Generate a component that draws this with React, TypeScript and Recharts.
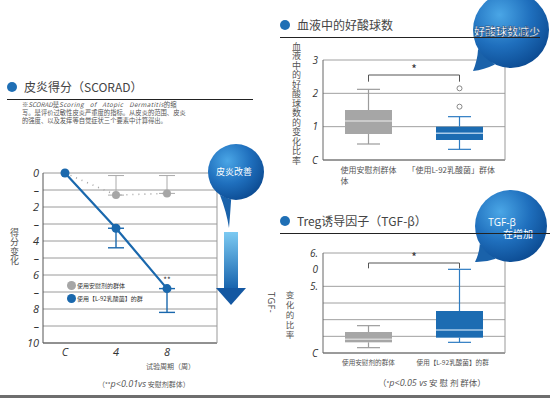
import React from "react";
import {
  LineChart, Line, XAxis, YAxis, CartesianGrid, ErrorBar, Legend,
  ComposedChart, Bar, Cell, ReferenceLine,
} from "recharts";

// ---- SCORAD (line chart) ----
const weeks = [0, 4, 8];
const weekLabels = ["C", "4", "8"];
const placeboScore = [0, 1.3, 1.2];
const placeboErrUp = [null, 1.15, 1.05];
const l92Score = [0, 3.25, 6.8];
const l92ErrDown = [null, 1.15, 1.4];
const scoreTicks = [0, 1, 2, 3, 4, 5, 6, 7, 8, 9, 10];
const scoreTickLabels = ["0", "–", "2", "–", "4", "–", "6", "–", "8", "–", "10"];
const seriesNames = ["使用安慰剂的群体", "使用【L-92乳酸菌】的群"];

// ---- eosinophils (box plot) ----
const eosGroups = ["使用安慰剂群体\n体", "「使用L-92乳酸菌」群体"];
const eosMin = [0.48, 0.32];
const eosQ1 = [0.78, 0.6];
const eosMedian = [1.17, 0.8];
const eosQ3 = [1.5, 1.0];
const eosMax = [2.12, 1.3];
const eosOutliers = [[], [2.15, 1.6]];
const eosTicks = [0, 1, 2, 3];
const eosTickLabels = ["C", "1", "2", "3"];

// ---- TGF-β (box plot) ----
const tgfGroups = ["使用安慰剂的群体", "使用【L-92乳酸菌】的群"];
const tgfMin = [0.32, 0.64];
const tgfQ1 = [0.64, 0.92];
const tgfMedian = [0.82, 1.38];
const tgfQ3 = [1.26, 2.52];
const tgfMax = [1.64, 5.02];
const tgfOutliers = [[], []];
const tgfTicks = [0, 1, 2, 3, 4, 5, 6];
const tgfTickLabels = ["C", "", "", "", "5.", "0", "6."];

const CJK = '"Noto Sans CJK SC", "Noto Sans", sans-serif';
const NUM = '"Open Sans", "DejaVu Sans", sans-serif';
const BLUE = "#1a68ad";
const GRAY = "#a6a6a6";

const scoreData = weeks.map((w, i) => ({
  week: w,
  placebo: placeboScore[i],
  l92: l92Score[i],
  placeboErr: placeboErrUp[i] == null ? null : [placeboErrUp[i], 0],
  l92Err: l92ErrDown[i] == null ? null : [0, l92ErrDown[i]],
}));

function boxTable(groups: string[], mins: number[], q1s: number[], meds: number[], q3s: number[], maxs: number[], outs: number[][]) {
  return groups.map((g, i) => ({
    name: g,
    base: mins[i],
    lowWhisker: q1s[i] - mins[i],
    lowBox: meds[i] - q1s[i],
    highBox: q3s[i] - meds[i],
    highWhisker: maxs[i] - q3s[i],
    out1: outs[i][0] ?? null,
    out2: outs[i][1] ?? null,
  }));
}

const eosData = boxTable(eosGroups, eosMin, eosQ1, eosMedian, eosQ3, eosMax, eosOutliers);
const tgfData = boxTable(tgfGroups, tgfMin, tgfQ1, tgfMedian, tgfQ3, tgfMax, tgfOutliers);

const CAP = 23;
const LowWhisker = (p: any) => {
  const cx = p.x + p.width / 2;
  return (
    <g>
      <line x1={cx} x2={cx} y1={p.y} y2={p.y + p.height} stroke={p.stroke} strokeWidth={1.2} />
      <line x1={cx - CAP / 2} x2={cx + CAP / 2} y1={p.y + p.height} y2={p.y + p.height} stroke={p.stroke} strokeWidth={1.2} />
    </g>
  );
};
const HighWhisker = (p: any) => {
  const cx = p.x + p.width / 2;
  return (
    <g>
      <line x1={cx} x2={cx} y1={p.y} y2={p.y + p.height} stroke={p.stroke} strokeWidth={1.2} />
      <line x1={cx - CAP / 2} x2={cx + CAP / 2} y1={p.y} y2={p.y} stroke={p.stroke} strokeWidth={1.2} />
    </g>
  );
};
const LowBox = (p: any) => <rect x={p.x} y={p.y} width={p.width} height={p.height} fill={p.fill} />;
const HighBox = (p: any) => (
  <g>
    <rect x={p.x} y={p.y} width={p.width} height={p.height} fill={p.fill} />
    <line x1={p.x} x2={p.x + p.width} y1={p.y + p.height} y2={p.y + p.height} stroke={p.stroke} strokeWidth={1.5} />
  </g>
);

const boxFills = [GRAY, "#1c6cb2"];
const medianColors = ["#d6d6d6", "#a9cbe9"];
const whiskerColors = ["#9c9c9c", "#2d7cc2"];

const GroupTick = ({ x, y, payload, fontSize }: any) => {
  const lines = String(payload.value).split("\n");
  const start = x - (lines[0].length * fontSize) / 2;
  return (
    <text x={start} y={y} fontSize={fontSize} fill="#555" fontFamily={CJK}>
      {lines.map((l, i) => (
        <tspan key={i} x={start} dy={i === 0 ? fontSize + 1 : fontSize + 3}>{l}</tspan>
      ))}
    </text>
  );
};

function BoxChart({ data, ticks, tickLabels, sigY, sigDrop, labelSize, xHeight, height, top }: any) {
  const names = data.map((d: any) => d.name);
  return (
    <ComposedChart width={226} height={height} data={data} margin={{ top, right: 0, bottom: 0, left: 13 }}>
      <CartesianGrid vertical={false} stroke="#a0a0a0" />
      <XAxis dataKey="name" height={xHeight} axisLine={{ stroke: "#666" }} tickLine={false} tickSize={2}
        tick={(p: any) => <GroupTick {...p} fontSize={labelSize} />} interval={0} />
      <YAxis domain={[ticks[0], ticks[ticks.length - 1]]} ticks={ticks} width={30} axisLine={{ stroke: "#666" }}
        tickLine={false} tickSize={0} tickMargin={5} tickFormatter={(v: number) => tickLabels[ticks.indexOf(v)]}
        tick={{ fontSize: 10, fontStyle: "italic", fill: "#333", fontFamily: NUM }} />
      <YAxis yAxisId="r" orientation="right" width={1} tick={false} tickLine={false} axisLine={{ stroke: "#999" }} />
      <Bar dataKey="base" stackId="b" barSize={47} shape={() => <g />} isAnimationActive={false} />
      <Bar dataKey="lowWhisker" stackId="b" barSize={47} shape={LowWhisker} isAnimationActive={false}>
        {data.map((_: any, i: number) => <Cell key={i} fill="none" stroke={whiskerColors[i]} />)}
      </Bar>
      <Bar dataKey="lowBox" stackId="b" barSize={47} shape={LowBox} isAnimationActive={false}>
        {data.map((_: any, i: number) => <Cell key={i} fill={boxFills[i]} />)}
      </Bar>
      <Bar dataKey="highBox" stackId="b" barSize={47} shape={HighBox} isAnimationActive={false}>
        {data.map((_: any, i: number) => <Cell key={i} fill={boxFills[i]} stroke={medianColors[i]} />)}
      </Bar>
      <Bar dataKey="highWhisker" stackId="b" barSize={47} shape={HighWhisker} isAnimationActive={false}>
        {data.map((_: any, i: number) => <Cell key={i} fill="none" stroke={whiskerColors[i]} />)}
      </Bar>
      <Line dataKey="out1" stroke="none" activeDot={false} isAnimationActive={false}
        dot={{ r: 2.5, fill: "#fff", stroke: "#888", strokeWidth: 1 }} />
      <Line dataKey="out2" stroke="none" activeDot={false} isAnimationActive={false}
        dot={{ r: 2.5, fill: "#fff", stroke: "#888", strokeWidth: 1 }} />
      <ReferenceLine segment={[{ x: names[0], y: sigY }, { x: names[1], y: sigY }]} stroke="#555"
        label={{ value: "*", position: "top", offset: 1, fontSize: 12, fill: "#333" }} />
      <ReferenceLine segment={[{ x: names[0], y: sigY }, { x: names[0], y: sigY - sigDrop }]} stroke="#555" />
      <ReferenceLine segment={[{ x: names[1], y: sigY }, { x: names[1], y: sigY - sigDrop }]} stroke="#555" />
    </ComposedChart>
  );
}

const ScoreLegend = ({ payload }: any) => {
  const items = [...(payload || [])].sort((a: any, b: any) => seriesNames.indexOf(a.value) - seriesNames.indexOf(b.value));
  return (
    <div style={{ fontSize: 6, color: "#333", lineHeight: "13px", fontFamily: CJK }}>
      {items.map((e: any) => (
        <div key={e.value} style={{ display: "flex", alignItems: "center" }}>
          <span style={{ width: 9, height: 9, borderRadius: "50%", background: e.color, marginRight: 1, display: "inline-block" }} />
          {e.value}
        </div>
      ))}
    </div>
  );
};

function Title({ x, y, text, lineTo }: any) {
  return (
    <>
      <div style={{ position: "absolute", left: x - 5, top: y - 5, width: 10, height: 10, borderRadius: "50%", background: "#1f6fb5" }} />
      <div style={{ position: "absolute", left: x + 12, top: y - 9, fontSize: 12, color: "#444", whiteSpace: "nowrap", lineHeight: "18px" }}>{text}</div>
      <div style={{ position: "absolute", left: x - 5, top: y + 12, width: lineTo - x + 5, height: 1, background: "#222" }} />
    </>
  );
}

function bubblePath(cx: number, cy: number, r: number, a1: number, a2: number, tx: number, ty: number) {
  const p1 = [cx + r * Math.cos((a1 * Math.PI) / 180), cy + r * Math.sin((a1 * Math.PI) / 180)];
  const p2 = [cx + r * Math.cos((a2 * Math.PI) / 180), cy + r * Math.sin((a2 * Math.PI) / 180)];
  return `M${p1[0]},${p1[1]} Q${(p1[0] + tx) / 2},${(p1[1] + ty) / 2 + 2} ${tx},${ty} Q${(p2[0] + tx) / 2 + 2},${(p2[1] + ty) / 2} ${p2[0]},${p2[1]} Z`;
}

function Overlay() {
  const bubbles = [
    { cx: 236, cy: 172, r: 28, a1: 100, a2: 125, tx: 229, ty: 228 },
    { cx: 511, cy: 30, r: 38, a1: 115, a2: 150, tx: 473, ty: 71 },
    { cx: 511, cy: 226, r: 36, a1: 115, a2: 150, tx: 475, ty: 262 },
  ];
  return (
    <svg width={550} height={398} style={{ position: "absolute", left: 0, top: 0 }}>
      <defs>
        <radialGradient id="bub" cx="35%" cy="30%" r="75%">
          <stop offset="0%" stopColor="#4aa6e6" />
          <stop offset="55%" stopColor="#1f6fbd" />
          <stop offset="100%" stopColor="#0c4b92" />
        </radialGradient>
        <linearGradient id="arr" x1="0" y1="0" x2="0" y2="1">
          <stop offset="0%" stopColor="#7ccaf2" />
          <stop offset="100%" stopColor="#1763ad" />
        </linearGradient>
      </defs>
      {bubbles.map((b, i) => (
        <g key={i}>
          <path d={bubblePath(b.cx, b.cy, b.r, b.a1, b.a2, b.tx, b.ty)} fill="#1a62aa" />
          <circle cx={b.cx} cy={b.cy} r={b.r} fill="url(#bub)" />
        </g>
      ))}
      <rect x={224} y={232} width={14} height={57} fill="url(#arr)" />
      <polygon points="216,288 246,288 231,305" fill="#1458a2" />
      <text x={234} y={175} textAnchor="middle" fontSize={9} fill="#fff" fontFamily={CJK}>皮炎改善</text>
      <text x={507} y={36} textAnchor="middle" fontSize={11} fill="#fff" fontFamily={CJK} fontWeight={700}
        stroke="#0d3c70" strokeWidth={0.4}>好酸球数减少</text>
      <text x={502} y={226} textAnchor="middle" fontSize={10} fill="#fff" fontFamily={NUM}>TGF-β</text>
      <text x={518} y={238} textAnchor="middle" fontSize={10} fill="#fff" fontFamily={CJK}>在增加</text>
    </svg>
  );
}

export default function App() {
  return (
    <div style={{ position: "absolute", left: 0, top: 0, width: 550, height: 398, background: "#fff", overflow: "hidden", fontFamily: CJK }}>
      {/* left: SCORAD */}
      <div style={{ position: "absolute", left: 0, top: 150 }}>
        <LineChart width={218} height={218} data={scoreData} margin={{ top: 23, right: 0, bottom: 0, left: 13 }}>
          <CartesianGrid vertical={false} stroke="#9a9a9a" />
          <XAxis dataKey="week" type="number" domain={[0, 8]} ticks={weeks} padding={{ left: 22, right: 50 }}
            height={25} axisLine={{ stroke: "#555" }} tickLine={false} tickSize={3}
            tickFormatter={(v: number) => weekLabels[weeks.indexOf(v)]}
            tick={{ fontSize: 11, fontStyle: "italic", fill: "#333", fontFamily: NUM }} />
          <YAxis type="number" domain={[0, 10]} reversed ticks={scoreTicks} interval={0} width={30}
            axisLine={{ stroke: "#555" }} tickLine={false} tickSize={0} tickMargin={4}
            tickFormatter={(v: number) => scoreTickLabels[scoreTicks.indexOf(v)]}
            tick={{ fontSize: 11, fontStyle: "italic", fill: "#333", fontFamily: NUM }} />
          <YAxis yAxisId="r" orientation="right" width={1} tick={false} tickLine={false} axisLine={{ stroke: "#999" }} />
          <Legend layout="vertical" align="center" verticalAlign="middle" content={ScoreLegend}
            wrapperStyle={{ left: 67, top: 129, width: 150, height: 26 }} />
          <Line dataKey="placebo" name={seriesNames[0]} stroke={GRAY} strokeWidth={1.6} strokeDasharray="1 5"
            dot={{ r: 4, fill: GRAY, stroke: "none" }} activeDot={false} isAnimationActive={false}>
            <ErrorBar dataKey="placeboErr" direction="y" stroke="#aaa" width={8} strokeWidth={1} />
          </Line>
          <Line dataKey="l92" name={seriesNames[1]} stroke={BLUE} strokeWidth={2.2}
            dot={{ r: 4.5, fill: BLUE, stroke: "none" }} activeDot={false} isAnimationActive={false}
            label={(p: any) => (p.index === 2 || p.value === l92Score[2]) ? (
              <text x={p.x} y={p.y - 6} textAnchor="middle" fontSize={8} fill="#333">**</text>
            ) : null}>
            <ErrorBar dataKey="l92Err" direction="y" stroke={BLUE} width={8} strokeWidth={1.4} />
          </Line>
        </LineChart>
      </div>

      {/* right top: eosinophils */}
      <div style={{ position: "absolute", left: 280, top: 45 }}>
        <BoxChart data={eosData} ticks={eosTicks} tickLabels={eosTickLabels} sigY={2.55} sigDrop={0.2}
          labelSize={8} xHeight={35} height={150} top={15} />
      </div>

      {/* right bottom: TGF-β */}
      <div style={{ position: "absolute", left: 280, top: 240 }}>
        <BoxChart data={tgfData} ticks={tgfTicks} tickLabels={tgfTickLabels} sigY={5.4} sigDrop={0.32}
          labelSize={6.6} xHeight={22} height={135} top={13} />
      </div>

      <Overlay />

      <Title x={12} y={87} text="皮炎得分（SCORAD）" lineTo={253} />
      <Title x={285} y={25} text="血液中的好酸球数" lineTo={540} />
      <Title x={285} y={221} text="Treg诱导因子（TGF-β）" lineTo={550} />

      <div style={{ position: "absolute", left: 22, top: 101, width: 205, fontSize: 6.3, lineHeight: "8px", color: "#555", whiteSpace: "nowrap" }}>
        <div>※<i>SCORAD</i>是<i style={{ wordSpacing: 4, letterSpacing: 0.4 }}>Scoring of Atopic Dermatitis</i>的缩</div>
        <div>写。是评价过敏性皮炎严重度的指标。从皮炎的范围、皮炎</div>
        <div>的强度、以及发痒等自觉症状三个要素中计算得出。</div>
      </div>

      <div style={{ position: "absolute", left: 8, top: 228, writingMode: "vertical-rl", fontSize: 9, letterSpacing: 0.5, color: "#555" }}>得分变化</div>
      <div style={{ position: "absolute", left: 146, top: 361, fontSize: 7, color: "#555", whiteSpace: "nowrap" }}>试验周期（周）</div>
      <div style={{ position: "absolute", left: 98, top: 377, fontSize: 7, color: "#555", whiteSpace: "nowrap" }}>
        （<span style={{ fontSize: 6 }}>**</span><i style={{ fontFamily: NUM, fontSize: 9 }}>p&lt;0.01vs</i> 安慰剂群体）
      </div>

      <div style={{ position: "absolute", left: 290, top: 42, writingMode: "vertical-rl", fontSize: 9, letterSpacing: 0.5, color: "#555" }}>血液中的好酸球数的变化比率</div>

      <div style={{ position: "absolute", left: 265, top: 292, writingMode: "vertical-rl", fontSize: 9, letterSpacing: 0.5, color: "#444", fontFamily: NUM }}>TGF-</div>
      <div style={{ position: "absolute", left: 284, top: 291, writingMode: "vertical-rl", fontSize: 8.5, letterSpacing: 1.5, color: "#555" }}>变化的比率</div>
      <div style={{ position: "absolute", left: 378, top: 376, fontSize: 8.5, color: "#555", whiteSpace: "nowrap" }}>
        （<span style={{ fontSize: 6 }}>*</span><i style={{ fontFamily: NUM, fontSize: 9 }}>p&lt;0.05 vs</i> 安 慰 剂 群体）
      </div>

      <div style={{ position: "absolute", left: 0, top: 395, width: 550, height: 3, background: "#6e6e6e" }} />
    </div>
  );
}
